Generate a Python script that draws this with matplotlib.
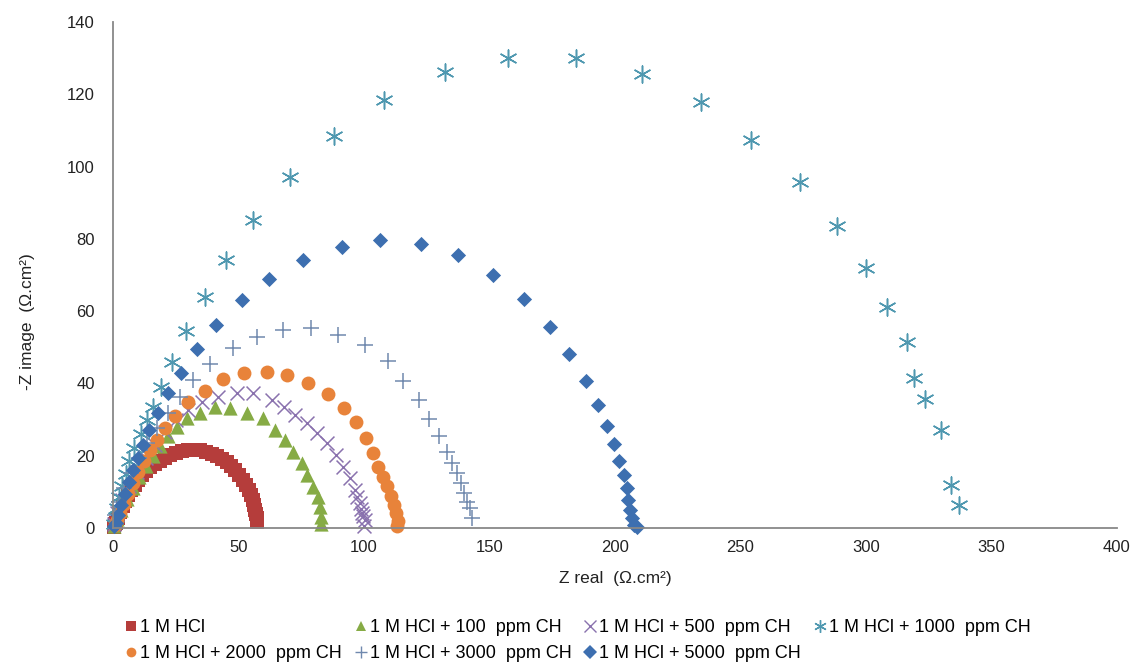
import numpy as np
import matplotlib.pyplot as plt
from matplotlib.lines import Line2D

plt.rcParams['font.family'] = ['Liberation Sans', 'DejaVu Sans']

# 1 M HCl
x_hcl = [0.4, 0.8, 1.2, 1.8, 2.8, 3.8, 4.8, 6.0, 7.2, 8.6, 10.0, 11.5, 13.1, 14.8, 16.7, 18.7, 20.7, 22.9, 25.1, 27.5,
         29.9, 32.3, 34.7, 37.0, 39.4, 41.5, 43.4, 45.3, 47.0, 48.7, 50.2, 51.7, 53.0, 54.1, 55.0, 55.7, 56.2, 56.7,
         57.0, 57.3, 57.4]
y_hcl = [0.4, 1.0, 1.4, 2.8, 4.4, 6.0, 7.5, 9.0, 10.5, 11.9, 13.3, 14.6, 15.8, 16.8, 17.7, 18.6, 19.4, 20.1, 20.8, 21.3,
         21.6, 21.7, 21.6, 21.1, 20.5, 19.9, 19.1, 18.2, 17.2, 16.0, 14.7, 13.3, 11.9, 10.5, 9.1, 7.8, 6.4, 5.1,
         3.9, 2.8, 1.7]

# + 100 ppm
x_100 = [0.4, 1.6, 3.2, 5.6, 8.0, 10.4, 13.1, 15.9, 18.7, 21.9, 25.5, 29.5, 34.7, 40.6, 46.6, 53.4, 59.8, 64.5, 68.5,
         71.7, 75.3, 77.3, 79.7, 81.7, 82.5, 82.9, 82.9]
y_100 = [0.6, 2.5, 5.0, 8.0, 11.1, 14.1, 17.2, 19.9, 22.7, 25.5, 27.9, 30.4, 31.8, 33.5, 33.2, 31.8, 30.4, 27.1, 24.3,
         21.0, 18.0, 14.7, 11.3, 8.6, 5.8, 3.0, 1.1]

# + 500 ppm
x_500 = [0.4, 1.6, 3.6, 6.4, 9.6, 13.1, 16.7, 20.7, 25.1, 29.9, 35.5, 41.8, 49.4, 55.8, 63.3, 68.1, 72.5, 77.3, 81.3,
         85.3, 88.8, 91.6, 94.4, 96.4, 97.2, 98.4, 98.8, 99.2, 99.6, 100.4, 100.0]
y_500 = [1.1, 4.2, 7.7, 11.6, 15.5, 19.4, 23.0, 26.6, 29.9, 32.7, 34.9, 36.2, 37.4, 37.4, 35.4, 33.5, 31.3, 29.1, 26.3,
         23.5, 20.2, 16.9, 13.8, 10.5, 8.6, 6.9, 5.3, 4.2, 3.3, 2.2, 0.6]

# + 1000 ppm
x_1000 = [0.5, 1, 1.5, 2.5, 3.5, 5, 6.5, 8.5, 11, 13.5, 16, 19, 23.5, 29, 36.7, 45, 55.8, 70.5, 88, 108, 132.3, 157.4,
          184.5, 210.8, 234.3, 254.2, 273.7, 288.4, 300, 308.4, 316.3, 319.1, 323.5, 329.9, 333.9, 337.1]
y_1000 = [1, 3, 5.5, 8.5, 11.5, 15, 18.5, 22, 26, 30, 33.5, 39, 46, 54.5, 63.9, 74.2, 85.2, 97.1, 108.5, 118.4, 126.2,
          130, 130, 125.6, 117.9, 107.4, 95.7, 83.6, 71.9, 61.2, 51.5, 41.5, 35.7, 27.1, 11.9, 6.4]

# + 2000 ppm
x_2000 = [0.8, 1.6, 2.8, 4.4, 6.0, 8.0, 10.0, 12.4, 14.7, 17.5, 20.7, 24.7, 29.9, 36.7, 43.8, 52.2, 61.4, 69.3, 77.7,
          85.7, 92.0, 96.8, 100.8, 103.6, 105.6, 107.6, 109.2, 110.8, 112.0, 112.7, 113.5, 113.1]
y_2000 = [0.8, 2.2, 4.2, 6.6, 9.4, 12.5, 15.5, 18.5, 21.6, 24.3, 27.7, 31.0, 34.9, 37.9, 41.2, 42.9, 43.2, 42.3, 40.1,
          37.1, 33.2, 29.3, 24.9, 20.8, 16.9, 14.1, 11.6, 8.9, 6.4, 4.2, 1.9, 0.6]

# + 3000 ppm
x_3000 = [0.8, 2.4, 4.4, 7.2, 10.4, 13.5, 17.5, 21.9, 26.7, 31.9, 38.6, 47.8, 57.4, 67.7, 78.9, 89.6, 100.4, 109.6,
          115.5, 121.9, 125.9, 129.9, 133.1, 135.1, 137.1, 138.6, 139.8, 141.0, 142.2, 143.0]
y_3000 = [3.6, 7.2, 11.1, 15.2, 19.4, 23.5, 27.7, 31.8, 36.2, 41.0, 45.4, 49.8, 52.8, 54.8, 55.3, 53.4, 50.6, 46.2,
          40.7, 35.4, 30.2, 25.5, 21.0, 18.0, 15.2, 12.5, 9.7, 7.2, 5.5, 2.8]

# + 5000 ppm
x_5000 = [0.4, 1.2, 2.0, 3.2, 4.8, 6.4, 8.0, 10.0, 12.0, 14.3, 17.9, 21.9, 27.1, 33.5, 41.0, 51.4, 62.2, 75.7, 91.2,
          106.4, 122.7, 137.5, 151.4, 163.7, 174.1, 181.7, 188.4, 193.2, 196.8, 199.6, 201.6, 203.6, 204.8, 205.2,
          206.0, 206.8, 207.6, 208.8]
y_5000 = [0.6, 1.4, 3.6, 6.4, 9.4, 12.7, 16.0, 19.4, 23.0, 27.1, 31.8, 37.4, 42.9, 49.5, 56.2, 63.1, 68.9, 74.2, 77.8,
          79.7, 78.6, 75.5, 70.0, 63.4, 55.6, 48.1, 40.7, 34.0, 28.2, 23.2, 18.5, 14.7, 11.1, 7.7, 5.0, 2.8, 0.8, 0.3]

rotulos = ['1 M HCl', '1 M HCl + 100  ppm CH', '1 M HCl + 500  ppm CH', '1 M HCl + 1000  ppm CH',
           '1 M HCl + 2000  ppm CH', '1 M HCl + 3000  ppm CH', '1 M HCl + 5000  ppm CH']

series = [
    (x_hcl, y_hcl, 's', '#B53D3B', 110, 0),
    (x_100, y_100, '^', '#86AB45', 105, 0),
    (x_500, y_500, 'x', '#8A72AE', 100, 1.1),
    (x_1000, y_1000, (6, 2, 0), '#4F98B0', 150, 1.1),
    (x_2000, y_2000, 'o', '#E8833A', 100, 0),
    (x_3000, y_3000, '+', '#7089AE', 130, 1.1),
    (x_5000, y_5000, 'D', '#3D6FB0', 60, 0),
]

fig = plt.figure(figsize=(11.37, 6.69), dpi=100)
ax = fig.add_axes([0.0994, 0.2108, 0.8830, 0.7563])

handles = []
for (xs, ys, mk, cor, tam, lw), rot in zip(series, rotulos):
    if lw == 0:
        ax.scatter(xs, ys, marker=mk, s=tam, color=cor, linewidths=0, clip_on=False)
        h = Line2D([], [], linestyle='none', marker=mk, color=cor, markersize=7, markeredgewidth=0)
    else:
        ax.scatter(xs, ys, marker=mk, s=tam, color=cor, linewidths=lw, clip_on=False)
        h = Line2D([], [], linestyle='none', marker=mk, color=cor, markersize=9, markeredgewidth=1)
    handles.append((h, rot))

ax.set_xlim(0, 400)
ax.set_ylim(0, 140)
ax.set_xticks(np.arange(0, 401, 50))
ax.set_yticks(np.arange(0, 141, 20))
for lado in ['top', 'right']:
    ax.spines[lado].set_visible(False)
for lado in ['left', 'bottom']:
    ax.spines[lado].set_color('#888888')
    ax.spines[lado].set_linewidth(1.3)
ax.tick_params(axis='both', length=0, labelsize=12, colors='#222222')
ax.tick_params(axis='y', pad=13)
ax.tick_params(axis='x', pad=9)

ax.set_xlabel('Z real  (Ω.cm²)', fontsize=12.5, color='#222222')
ax.xaxis.set_label_coords(0.5, -0.085)
ax.set_ylabel('-Z image  (Ω.cm²)', fontsize=12.5, color='#222222')
ax.yaxis.set_label_coords(-0.078, 0.407)

# legenda em 4 colunas preenchida por linhas
ordem = [0, 4, 1, 5, 2, 6, 3]
fig.legend([handles[i][0] for i in ordem], [handles[i][1] for i in ordem],
           ncol=4, loc='upper left', bbox_to_anchor=(0.104, 0.085), frameon=False,
           fontsize=13, handlelength=0.6, handletextpad=0.2, columnspacing=0.75,
           labelspacing=0.5, borderaxespad=0)

fig.savefig('out.png', dpi=100)
